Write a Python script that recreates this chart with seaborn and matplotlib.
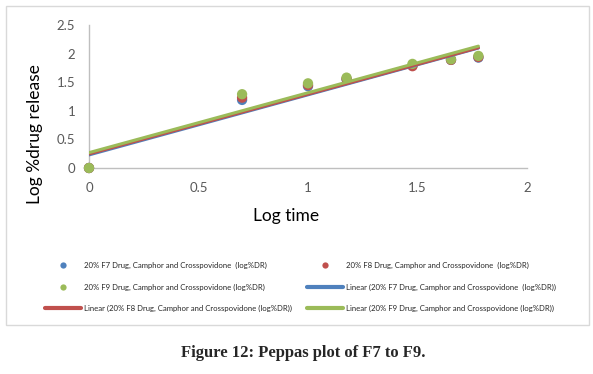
import numpy as np
import pandas as pd
import matplotlib.pyplot as plt
import seaborn as sns
from matplotlib.lines import Line2D
from matplotlib.patches import Rectangle

# Data (log time vs log %drug release)
log_time = [0, 0.699, 1.0, 1.176, 1.477, 1.653, 1.778]
f7 = [0, 1.19, 1.43, 1.55, 1.79, 1.89, 1.93]
f8 = [0, 1.23, 1.45, 1.56, 1.78, 1.89, 1.94]
f9 = [0, 1.29, 1.48, 1.58, 1.82, 1.90, 1.96]

names = ["20% F7 Drug, Camphor and Crosspovidone  (log%DR)",
         "20% F8 Drug, Camphor and Crosspovidone  (log%DR)",
         "20% F9 Drug, Camphor and Crosspovidone (log%DR)"]
lin_names = ["Linear (20% F7 Drug, Camphor and Crosspovidone  (log%DR))",
             "Linear (20% F8 Drug, Camphor and Crosspovidone (log%DR))",
             "Linear (20% F9 Drug, Camphor and Crosspovidone (log%DR))"]
colors = ["#4F81BD", "#C0504D", "#9BBB59"]

sns.set_style("white")
plt.rcParams["font.family"] = ["Lato", "DejaVu Sans"]

fig = plt.figure(figsize=(5.93, 3.74), dpi=100)
ax = fig.add_axes([89 / 593, 1 - 168 / 374, 438 / 593, 143 / 374])

series = [f7, f8, f9]
for ys, c in zip(series, colors):
    sns.scatterplot(x=log_time, y=ys, color=c, s=55, edgecolor="none",
                    ax=ax, clip_on=False, zorder=3)

# trend lines
for ys, c in zip(series, colors):
    df = pd.DataFrame({"x": log_time, "y": ys})
    sns.regplot(data=df, x="x", y="y", scatter=False, ci=None, truncate=True,
                color=c, line_kws={"lw": 2.2, "zorder": 4}, ax=ax)

ax.set_xlim(0, 2)
ax.set_ylim(0, 2.5)
ax.set_xticks([0, 0.5, 1, 1.5, 2])
ax.set_yticks([0, 0.5, 1, 1.5, 2, 2.5])
ax.set_xticklabels(["0", "0.5", "1", "1.5", "2"])
ax.set_yticklabels(["0", "0.5", "1", "1.5", "2", "2.5"])
ax.tick_params(length=0, labelsize=9.5, labelcolor="#595959", pad=10)
for s in ["top", "right"]:
    ax.spines[s].set_visible(False)
for s in ["left", "bottom"]:
    ax.spines[s].set_color("#BFBFBF")
    ax.spines[s].set_linewidth(1)

ax.set_xlabel("Log time", fontsize=12.5, color="black")
ax.set_ylabel("Log %drug release", fontsize=12.5, color="black")
ax.xaxis.set_label_coords(0.45, -0.28)
ax.yaxis.set_label_coords(-0.105, 0.24)

# legend, laid out in two columns like the original
h_pts = [Line2D([], [], ls="none", marker="o", ms=4.5, color=c, mec="none") for c in colors]
h_lin = [Line2D([], [], lw=3, color=c) for c in colors]
leg_kw = dict(frameon=False, loc="upper left", fontsize=5.6, borderpad=0,
              handlelength=4.7, handletextpad=0.3, labelspacing=1.85)
leg1 = fig.legend([h_pts[0], h_pts[2], h_lin[1]], [names[0], names[2], lin_names[1]],
                  bbox_to_anchor=(41 / 593, 1 - 258 / 374), **leg_kw)
leg2 = fig.legend([h_pts[1], h_lin[0], h_lin[2]], [names[1], lin_names[0], lin_names[2]],
                  bbox_to_anchor=(303 / 593, 1 - 258 / 374), **leg_kw)

# chart border
fig.patches.append(Rectangle((6 / 593, 1 - 325 / 374), 583 / 593, 319 / 374,
                             transform=fig.transFigure, fill=False,
                             edgecolor="#D9D9D9", lw=1))

fig.text(303 / 593, 1 - 353 / 374, "Figure 12: Peppas plot of F7 to F9.",
         family="Liberation Serif", weight="bold", fontsize=12,
         ha="center", va="center")

fig.savefig("out.png", dpi=100)
